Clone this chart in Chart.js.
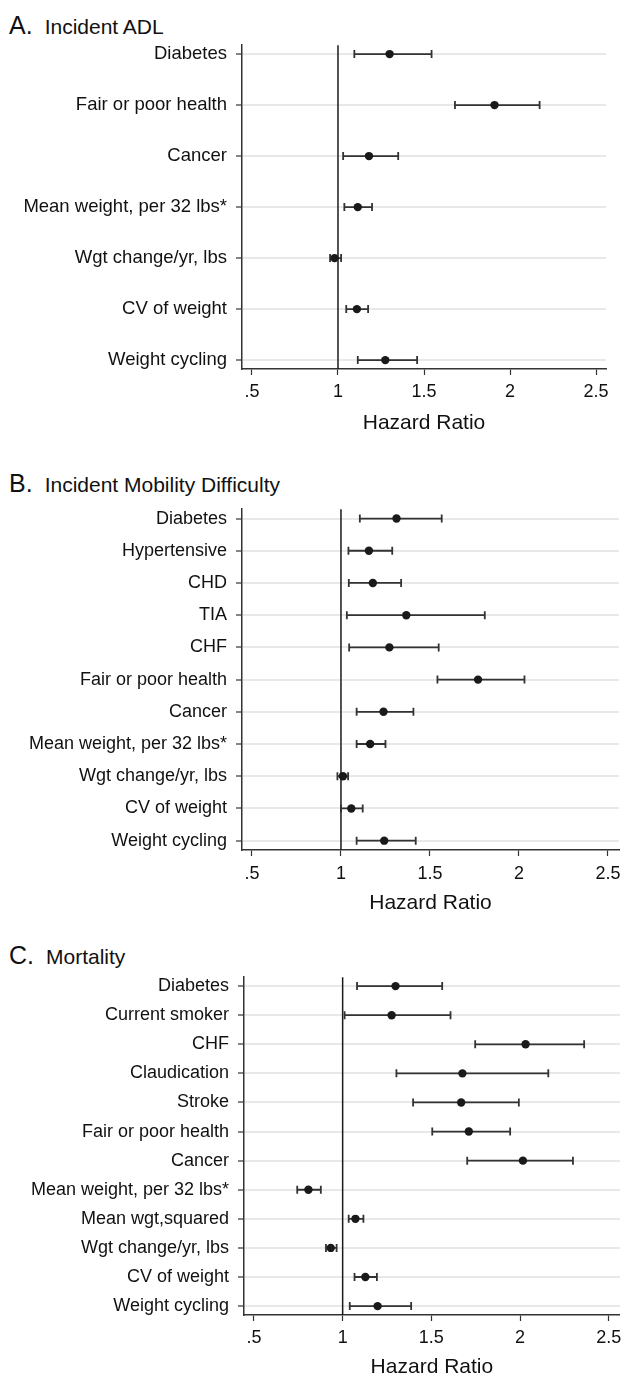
<!DOCTYPE html>
<html>
<head>
<meta charset="utf-8">
<script src="https://cdn.jsdelivr.net/npm/chart.js@4.4.0/dist/chart.umd.min.js"></script>
<style>
  body { margin: 0; background: #fff; width: 624px; height: 1377px; position: relative; overflow: hidden;
         font-family: "Liberation Sans", Arial, sans-serif; color: #111; }
  .title { position: absolute; left: 9px; height: 28px; line-height: 28px; font-size: 21px; white-space: nowrap; }
  .title span { font-size: 25px; margin-right: 12px; }
  canvas { position: absolute; left: 0; }
</style>
</head>
<body>
<div class="title" style="top:11px"><span>A.</span>Incident ADL</div>
<div class="title" style="top:469px"><span>B.</span>Incident Mobility Difficulty</div>
<div class="title" style="top:941px"><span>C.</span>Mortality</div>

<canvas id="chartA" width="624" height="399" style="top:41px"></canvas>
<canvas id="chartB" width="624" height="416" style="top:505px"></canvas>
<canvas id="chartC" width="624" height="413" style="top:973px"></canvas>

<script>
// x axis ticks
var xTicks = [0.5, 1, 1.5, 2, 2.5];
var xTickText = ['.5', '1', '1.5', '2', '2.5'];

// A. Incident ADL
var labelsA = ['Diabetes', 'Fair or poor health', 'Cancer', 'Mean weight, per 32 lbs*',
  'Wgt change/yr, lbs', 'CV of weight', 'Weight cycling'];
var hrA = [1.30, 1.91, 1.18, 1.115, 0.98, 1.11, 1.275];
var loA = [1.095, 1.68, 1.03, 1.037, 0.954, 1.048, 1.115];
var hiA = [1.544, 2.172, 1.35, 1.198, 1.018, 1.175, 1.46];

// B. Incident Mobility Difficulty
var labelsB = ['Diabetes', 'Hypertensive', 'CHD', 'TIA', 'CHF', 'Fair or poor health', 'Cancer',
  'Mean weight, per 32 lbs*', 'Wgt change/yr, lbs', 'CV of weight', 'Weight cycling'];
var hrB = [1.312, 1.157, 1.179, 1.367, 1.272, 1.77, 1.239, 1.164, 1.011, 1.058, 1.243];
var loB = [1.106, 1.042, 1.044, 1.033, 1.046, 1.542, 1.088, 1.088, 0.98, 1.0, 1.088];
var hiB = [1.566, 1.288, 1.338, 1.808, 1.549, 2.031, 1.407, 1.25, 1.04, 1.122, 1.42];

// C. Mortality
var labelsC = ['Diabetes', 'Current smoker', 'CHF', 'Claudication', 'Stroke', 'Fair or poor health',
  'Cancer', 'Mean weight, per 32 lbs*', 'Mean wgt,squared', 'Wgt change/yr, lbs', 'CV of weight', 'Weight cycling'];
var hrC = [1.298, 1.276, 2.031, 1.675, 1.668, 1.711, 2.016, 0.807, 1.072, 0.933, 1.128, 1.197];
var loC = [1.081, 1.011, 1.747, 1.303, 1.397, 1.505, 1.702, 0.744, 1.034, 0.906, 1.067, 1.04];
var hiC = [1.561, 1.608, 2.361, 2.159, 1.993, 1.944, 2.298, 0.877, 1.117, 0.966, 1.193, 1.386];

var FONT = '"Liberation Sans", Arial, sans-serif';

// draws the reference line at HR = 1 and the confidence interval whiskers
var forestPlugin = {
  id: 'forest',
  beforeDatasetsDraw: function(chart, args, opts) {
    var ctx = chart.ctx, area = chart.chartArea;
    var x = chart.scales.x, y = chart.scales.y;
    ctx.save();
    ctx.strokeStyle = '#1a1a1a';
    ctx.lineWidth = 1.5;
    var x1 = x.getPixelForValue(1);
    ctx.beginPath();
    ctx.moveTo(x1, area.top);
    ctx.lineTo(x1, area.bottom);
    ctx.stroke();

    ctx.strokeStyle = '#333';
    ctx.lineWidth = 1.8;
    opts.lo.forEach(function(lo, i) {
      var yy = y.getPixelForValue(i);
      var a = x.getPixelForValue(lo), b = x.getPixelForValue(opts.hi[i]);
      ctx.beginPath();
      ctx.moveTo(a, yy); ctx.lineTo(b, yy);
      ctx.moveTo(a, yy - 4); ctx.lineTo(a, yy + 4);
      ctx.moveTo(b, yy - 4); ctx.lineTo(b, yy + 4);
      ctx.stroke();
    });
    ctx.restore();
  }
};

function makePanel(id, labels, hr, lo, hi, p) {
  var n = labels.length;
  new Chart(document.getElementById(id), {
    type: 'scatter',
    data: {
      datasets: [{
        data: hr.map(function(v, i) { return { x: v, y: i }; }),
        pointRadius: 4.2,
        pointHoverRadius: 4.2,
        backgroundColor: '#1a1a1a',
        borderWidth: 0
      }]
    },
    options: {
      responsive: false,
      animation: false,
      devicePixelRatio: 1,
      layout: { padding: { top: 0, right: p.right, bottom: 0, left: 0 } },
      plugins: {
        legend: { display: false },
        tooltip: { enabled: false },
        forest: { lo: lo, hi: hi }
      },
      scales: {
        x: {
          type: 'linear',
          min: p.xMin,
          max: p.xMax,
          afterBuildTicks: function(s) { s.ticks = xTicks.map(function(v) { return { value: v }; }); },
          afterFit: function(s) {
            s.height = 71;
            s.paddingLeft = 0; s.paddingRight = 0;
          },
          ticks: {
            callback: function(v) { return xTickText[xTicks.indexOf(v)]; },
            font: { family: FONT, size: 18 },
            color: '#111',
            padding: p.tickPad,
            maxRotation: 0,
            autoSkip: false
          },
          grid: { drawOnChartArea: false, tickColor: '#333', tickLength: 6, tickWidth: 1.2 },
          border: { color: '#333', width: 1.5 },
          title: {
            display: true,
            text: 'Hazard Ratio',
            font: { family: FONT, size: 21, lineHeight: 1.2 },
            color: '#111',
            padding: { top: 0, bottom: p.titlePad }
          }
        },
        y: {
          type: 'linear',
          reverse: true,
          min: -p.rowPad,
          max: n - 1 + p.rowPad,
          afterBuildTicks: function(s) { s.ticks = labels.map(function(l, i) { return { value: i }; }); },
          afterFit: function(s) {
            s.width = p.left;
            s.paddingTop = 0; s.paddingBottom = 0;
          },
          ticks: {
            callback: function(v) { return labels[v]; },
            font: { family: FONT, size: p.labelSize },
            color: '#111',
            padding: 9,
            autoSkip: false
          },
          grid: { color: '#e8e8e8', lineWidth: 2, tickColor: '#333', tickLength: 6, tickWidth: 1.2 },
          border: { color: '#333', width: 1.5 }
        }
      }
    },
    plugins: [forestPlugin]
  });
}

makePanel('chartA', labelsA, hrA, loA, hiA,
  { left: 242, right: 18, xMin: 0.442, xMax: 2.558, rowPad: 0.174, labelSize: 18.5, tickPad: 6, titlePad: 4 });
makePanel('chartB', labelsB, hrB, loB, hiB,
  { left: 242, right: 5, xMin: 0.444, xMax: 2.562, rowPad: 0.29, labelSize: 18, tickPad: 7, titlePad: 5 });
makePanel('chartC', labelsC, hrC, loC, hiC,
  { left: 244, right: 3, xMin: 0.444, xMax: 2.562, rowPad: 0.306, labelSize: 18, tickPad: 6, titlePad: 6 });
</script>
</body>
</html>
